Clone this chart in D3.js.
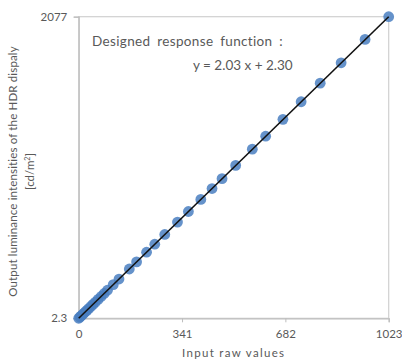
<!DOCTYPE html>
<html><head><meta charset="utf-8">
<script src="https://cdn.jsdelivr.net/npm/d3@7"></script>
<style>body{margin:0;background:#fff}svg{display:block}text{font-family:Lato,"Open Sans",sans-serif;fill:#595959}</style>
</head><body><svg id="c" width="402" height="362"></svg>
<script>
const inputRaw = [0, 4, 8, 12, 17, 22, 27, 33, 40, 47, 55, 64, 74, 84, 95, 114, 133, 167, 191, 224, 251, 284, 326, 362, 403, 440, 473, 518, 573, 617, 674, 734, 797, 866, 945, 1023];
const luminance = [2.3, 10.4, 18.5, 26.7, 36.8, 47, 57.1, 69.3, 83.5, 97.7, 114, 132.2, 152.5, 172.8, 195.2, 233.7, 272.3, 341.3, 390, 457, 512, 579, 664, 737, 820, 895, 963, 1054, 1166, 1255, 1371, 1492, 1620, 1760, 1921, 2077];
const fitLine = [{x: 0, y: 2.3}, {x: 1023, y: 2077}];
const xTicks = [0, 341, 682, 1023];
const yTicks = [2.3, 2077];
const xTitle = "Input raw values";
const yTitle1 = "Output luminance intensities of the HDR dispaly";
const annot1 = "Designed response function :";
const annot2 = "y = 2.03 x + 2.30";

const svg = d3.select("#c");
const L = 78.7, R = 388.7, T = 16.7, B = 318.3;
const x = d3.scaleLinear().domain([0, 1023]).range([L, R]);
const y = d3.scaleLinear().domain([2.3, 2077]).range([B, T]);

// plot border
svg.append("rect").attr("x", L).attr("y", T).attr("width", R - L).attr("height", B - T)
  .attr("fill", "none").attr("stroke", "#d0d0d0").attr("stroke-width", 1.2);

const xa = svg.append("g").attr("transform", `translate(0,${B})`)
  .call(d3.axisBottom(x).tickValues(xTicks).tickSize(4).tickFormat(d3.format("d")));
const ya = svg.append("g").attr("transform", `translate(${L},0)`)
  .call(d3.axisLeft(y).tickValues(yTicks).tickSize(5).tickFormat(d => d === 2.3 ? "2.3" : String(d)));
[xa, ya].forEach(g => {
  g.select(".domain").attr("stroke", "#bdbdbd").attr("stroke-width", 1.2);
  g.selectAll(".tick line").attr("stroke", "#bdbdbd");
  g.selectAll("text").attr("font-size", 11.5).attr("fill", "#555").style("font-family", "Lato, sans-serif");
});
xa.selectAll("text").attr("dy", "1.1em");
ya.selectAll("text").attr("dx", "-0.3em");

// points
const pts = inputRaw.map((v, i) => ({x: v, y: luminance[i]}));
svg.append("g").selectAll("circle").data(pts).enter().append("circle")
  .attr("cx", d => x(d.x)).attr("cy", d => y(d.y)).attr("r", 5.4)
  .attr("fill", "#4a7fc1").attr("fill-opacity", 0.85);

// fit line
svg.append("path").datum(fitLine)
  .attr("d", d3.line().x(d => x(d.x)).y(d => y(d.y)))
  .attr("stroke", "#111").attr("stroke-width", 1.6).attr("fill", "none");

svg.append("text").attr("x", 92).attr("y", 46).attr("font-size", 13.5).attr("letter-spacing", 0.35)
  .attr("word-spacing", 3).attr("fill", "#404040").text(annot1);
svg.append("text").attr("x", 193).attr("y", 70).attr("font-size", 13.5).attr("fill", "#404040").text(annot2);

svg.append("text").attr("x", (L + R) / 2).attr("y", 357).attr("text-anchor", "middle")
  .attr("font-size", 11.5).attr("letter-spacing", 1.3).text(xTitle);

const yl = svg.append("g").attr("transform", `translate(0,${(T + B) / 2 + 4}) rotate(-90)`);
yl.append("text").attr("x", 0).attr("y", 17).attr("text-anchor", "middle").attr("font-size", 11.5).attr("letter-spacing", 0.15).text(yTitle1);
const t2 = yl.append("text").attr("x", 0).attr("y", 34).attr("text-anchor", "middle").attr("font-size", 11.5);
t2.append("tspan").text("[cd/m");
t2.append("tspan").attr("font-size", 7).attr("dy", -4).text("2");
t2.append("tspan").attr("dy", 4).text("]");
</script></body></html>
